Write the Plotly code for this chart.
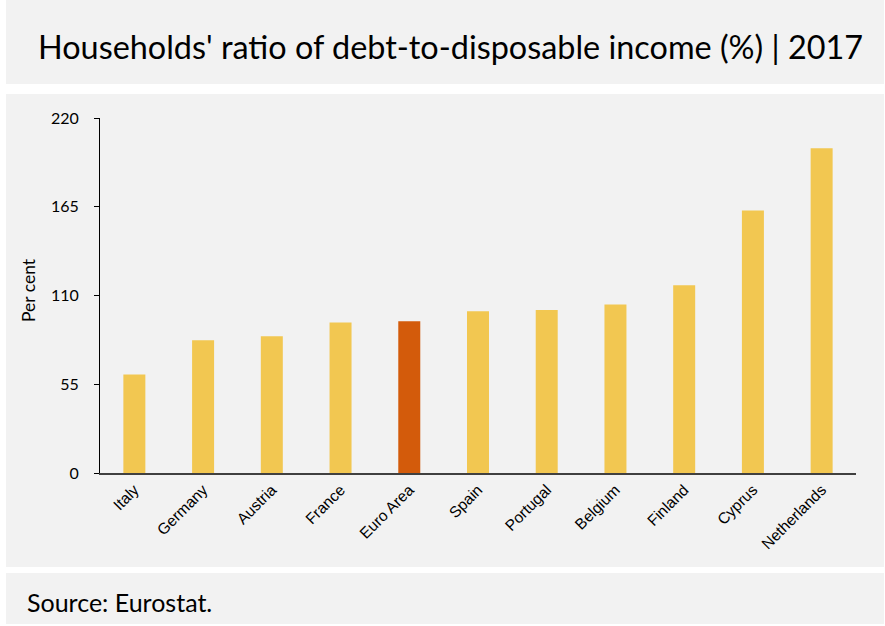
import plotly.graph_objects as go

countries = ["Italy", "Germany", "Austria", "France", "Euro Area", "Spain",
             "Portugal", "Belgium", "Finland", "Cyprus", "Netherlands"]
ratios = [61.0, 82.2, 84.7, 93.2, 94.0, 100.2, 101.0, 104.5, 116.3, 162.6, 201.2]
y_ticks = [0, 55, 110, 165, 220]

YELLOW = "#F2C751"
ORANGE = "#D35B0B"
GRAY = "#F2F2F2"
colors = [ORANGE if c == "Euro Area" else YELLOW for c in countries]

W, H = 885, 626
L, R, T, B = 100, 29, 118, 153
pw, ph = W - L - R, H - T - B

def px(x):
    return (x - L) / pw

def py(y):
    return (H - B - y) / ph

fig = go.Figure(go.Bar(x=countries, y=ratios, marker=dict(color=colors, line=dict(width=0)),
                       width=0.32))

shapes = []
for (x0, y0, x1, y1) in [(6, 0, 884, 84), (6, 94, 884, 567), (6, 573, 884, 624)]:
    shapes.append(dict(type="rect", xref="paper", yref="paper", x0=px(x0), x1=px(x1),
                       y0=py(y1), y1=py(y0), fillcolor=GRAY, line=dict(width=0), layer="below"))

fig.update_layout(
    width=W, height=H, margin=dict(l=L, r=R, t=T, b=B),
    paper_bgcolor="white", plot_bgcolor="rgba(0,0,0,0)",
    shapes=shapes, showlegend=False,
    xaxis=dict(showline=True, linecolor="#404040", linewidth=1.5, ticks="", showgrid=False,
               tickangle=-45, tickfont=dict(family="Liberation Sans", size=15.5, color="black")),
    yaxis=dict(range=[0, 220], tickvals=y_ticks, showline=True, linecolor="black", linewidth=1,
               ticks="outside", ticklen=5, tickcolor="black", showgrid=False, zeroline=False,
               ticklabelstandoff=12,
               tickfont=dict(family="Lato", size=16, color="black")),
    annotations=[
        dict(text="Households' ratio of debt-to-disposable income (%) | 2017", xref="paper", yref="paper",
             x=px(36), y=py(46), xanchor="left", yanchor="middle", showarrow=False,
             font=dict(family="Lato", size=32.4, color="black")),
        dict(text="Per cent", xref="paper", yref="paper", x=px(28), y=py(290), textangle=-90,
             xanchor="center", yanchor="middle", showarrow=False,
             font=dict(family="Lato", size=17.5, color="black")),
        dict(text="Source: Eurostat.", xref="paper", yref="paper", x=px(25), y=py(602),
             xanchor="left", yanchor="middle", showarrow=False,
             font=dict(family="Lato", size=25, color="black")),
    ],
)

fig.write_html("out.html")
